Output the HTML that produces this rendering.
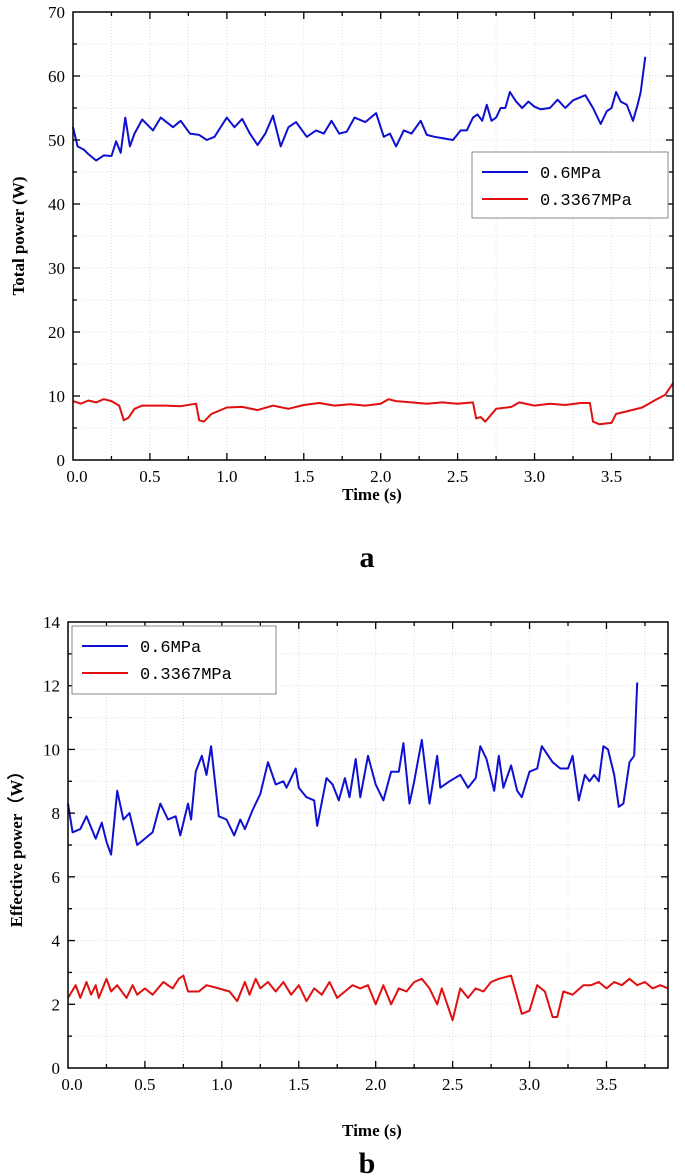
<!DOCTYPE html>
<html><head><meta charset="utf-8"><style>
html,body{margin:0;padding:0;background:#fff;}
svg{display:block;font-family:"Liberation Serif",serif;}
</style></head><body>
<svg id="svg" width="685" height="1176" viewBox="0 0 685 1176" xmlns="http://www.w3.org/2000/svg"></svg>
<script>
// Chart a data
const aBlueT=[0,0.03,0.07,0.1,0.15,0.2,0.25,0.28,0.31,0.34,0.37,0.4,0.45,0.52,0.57,0.65,0.7,0.76,0.82,0.87,0.92,1.0,1.05,1.1,1.15,1.2,1.25,1.3,1.35,1.4,1.45,1.52,1.58,1.63,1.68,1.73,1.78,1.83,1.9,1.97,2.02,2.06,2.1,2.15,2.2,2.26,2.3,2.35,2.4,2.47,2.52,2.56,2.6,2.63,2.66,2.69,2.72,2.75,2.78,2.81,2.84,2.88,2.92,2.96,3.0,3.04,3.1,3.15,3.2,3.25,3.28,3.33,3.38,3.43,3.47,3.5,3.53,3.56,3.6,3.64,3.67,3.69,3.72];
const aBlueV=[52,49,48.5,47.8,46.8,47.6,47.5,49.8,48,53.5,49,51,53.2,51.5,53.5,52,53,51,50.8,50,50.5,53.5,52,53.3,51,49.2,51,53.8,49,52,52.8,50.5,51.5,51,53,51,51.3,53.5,52.8,54.2,50.5,51,49,51.5,51,53,50.8,50.5,50.3,50,51.5,51.5,53.5,54,53,55.5,53,53.5,55,55,57.5,56,55,56,55.2,54.8,55,56.3,55,56.2,56.5,57,55,52.5,54.5,55,57.5,56,55.5,53,55.5,57.5,63];
const aRedT=[0,0.05,0.1,0.15,0.2,0.25,0.3,0.33,0.36,0.4,0.45,0.6,0.7,0.8,0.82,0.85,0.9,1.0,1.1,1.2,1.3,1.4,1.5,1.6,1.7,1.8,1.9,2.0,2.05,2.1,2.2,2.3,2.4,2.5,2.6,2.62,2.65,2.68,2.75,2.85,2.9,3.0,3.1,3.2,3.3,3.36,3.38,3.42,3.5,3.53,3.6,3.7,3.78,3.85,3.9];
const aRedV=[9.2,8.8,9.3,9.0,9.5,9.2,8.5,6.2,6.6,8.0,8.5,8.5,8.4,8.8,6.2,6.0,7.2,8.2,8.3,7.8,8.5,8.0,8.6,8.9,8.5,8.7,8.5,8.8,9.5,9.2,9.0,8.8,9.0,8.8,9.0,6.5,6.7,6.0,8.0,8.3,9.0,8.5,8.8,8.6,8.9,8.9,6.0,5.6,5.8,7.2,7.6,8.2,9.3,10.2,12];
// Chart b data
const bBlueT=[0,0.03,0.08,0.12,0.18,0.22,0.25,0.28,0.32,0.36,0.4,0.45,0.5,0.55,0.6,0.65,0.7,0.73,0.78,0.8,0.83,0.87,0.9,0.93,0.98,1.03,1.08,1.12,1.15,1.2,1.25,1.3,1.35,1.4,1.42,1.48,1.5,1.55,1.6,1.62,1.68,1.72,1.76,1.8,1.83,1.87,1.9,1.95,2.0,2.05,2.1,2.15,2.18,2.22,2.25,2.3,2.35,2.4,2.42,2.48,2.55,2.6,2.65,2.68,2.72,2.77,2.8,2.83,2.88,2.92,2.95,3.0,3.05,3.08,3.15,3.2,3.25,3.28,3.32,3.36,3.39,3.42,3.45,3.48,3.51,3.55,3.58,3.61,3.65,3.68];
const bBlueV=[8.3,7.4,7.5,7.9,7.2,7.7,7.1,6.7,8.7,7.8,8.0,7.0,7.2,7.4,8.3,7.8,7.9,7.3,8.3,7.8,9.3,9.8,9.2,10.1,7.9,7.8,7.3,7.8,7.5,8.1,8.6,9.6,8.9,9.0,8.8,9.4,8.8,8.5,8.4,7.6,9.1,8.9,8.4,9.1,8.5,9.7,8.5,9.8,8.9,8.4,9.3,9.3,10.2,8.3,9.0,10.3,8.3,9.8,8.8,9.0,9.2,8.8,9.1,10.1,9.7,8.7,9.8,8.8,9.5,8.7,8.5,9.3,9.4,10.1,9.6,9.4,9.4,9.8,8.4,9.2,9.0,9.2,9.0,10.1,10.0,9.2,8.2,8.3,9.6,9.8];
const bBlueEndT=[3.68,3.7];
const bBlueEndV=[9.8,12.1];
const bRedT=[0,0.05,0.08,0.12,0.15,0.18,0.2,0.25,0.28,0.32,0.38,0.42,0.45,0.5,0.55,0.62,0.68,0.72,0.75,0.78,0.85,0.9,0.98,1.05,1.1,1.15,1.18,1.22,1.25,1.3,1.35,1.4,1.45,1.5,1.55,1.6,1.65,1.7,1.75,1.8,1.85,1.9,1.95,2.0,2.05,2.1,2.15,2.2,2.25,2.3,2.35,2.4,2.43,2.5,2.55,2.6,2.65,2.7,2.75,2.8,2.88,2.95,3.0,3.05,3.1,3.15,3.18,3.22,3.28,3.35,3.4,3.45,3.5,3.55,3.6,3.65,3.7,3.75,3.8,3.85,3.9];
const bRedV=[2.2,2.6,2.2,2.7,2.3,2.6,2.2,2.8,2.4,2.6,2.2,2.6,2.3,2.5,2.3,2.7,2.5,2.8,2.9,2.4,2.4,2.6,2.5,2.4,2.1,2.7,2.3,2.8,2.5,2.7,2.4,2.7,2.3,2.6,2.1,2.5,2.3,2.7,2.2,2.4,2.6,2.5,2.6,2.0,2.6,2.0,2.5,2.4,2.7,2.8,2.5,2.0,2.5,1.5,2.5,2.2,2.5,2.4,2.7,2.8,2.9,1.7,1.8,2.6,2.4,1.6,1.6,2.4,2.3,2.6,2.6,2.7,2.5,2.7,2.6,2.8,2.6,2.7,2.5,2.6,2.5];
const xTicks=[0,0.5,1,1.5,2,2.5,3,3.5];
const xTickLabels=["0.0","0.5","1.0","1.5","2.0","2.5","3.0","3.5"];
const aYTicks=[0,10,20,30,40,50,60,70];
const bYTicks=[0,2,4,6,8,10,12,14];
const legendLabels=["0.6MPa","0.3367MPa"];

const NS="http://www.w3.org/2000/svg";
const svg=document.getElementById('svg');
function mk(tag,attrs,parent){const e=document.createElementNS(NS,tag);for(const k in attrs)e.setAttribute(k,attrs[k]);(parent||svg).appendChild(e);return e;}

function chart(cfg){
  const g=mk('g',{});
  
  
  const L=cfg.left,R=cfg.right,T=cfg.top,B=cfg.bottom;
  const sx=t=>L+(t-0)/(3.9)*(R-L);
  const sy=v=>B-(v-0)/(cfg.ymax)*(B-T);
  for(let t=0.25;t<3.9;t+=0.25){const l=mk('line',{x1:sx(t),x2:sx(t),y1:T,y2:B,stroke:'#ddd','stroke-width':1,'stroke-dasharray':'1,2'},g);}
  for(let v=cfg.ystep/2;v<cfg.ymax;v+=cfg.ystep/2){const l=mk('line',{x1:L,x2:R,y1:sy(v),y2:sy(v),stroke:'#ddd','stroke-width':1,'stroke-dasharray':'1,2'},g);}
  function series(ts,vs,color,name){
    const d=ts.map((t,i)=>(i?'L':'M')+sx(t).toFixed(1)+','+sy(vs[i]).toFixed(1)).join(' ');
    const p=mk('path',{d:d,fill:'none',stroke:color,'stroke-width':2,'stroke-linejoin':'round'},g);
    
    
    return p;
  }
  cfg.series.forEach(s=>series(s[0],s[1],s[2],s[3]));
  const fr=mk('rect',{x:L,y:T,width:R-L,height:B-T,fill:'none',stroke:'#000','stroke-width':1.5},g);
  
  
  for(let t=0.25;t<3.9;t+=0.25){
    const major=Math.abs(t*2-Math.round(t*2))<1e-6;const len=major?7:4;
    mk('line',{x1:sx(t),x2:sx(t),y1:B,y2:B-len,stroke:'#000','stroke-width':1.3},g);
    mk('line',{x1:sx(t),x2:sx(t),y1:T,y2:T+len,stroke:'#000','stroke-width':1.3},g);
  }
  xTicks.forEach((t,i)=>{const tx=mk('text',{x:sx(t)+(i==0?4:0),y:B+22,'text-anchor':'middle','font-size':17,fill:'#000'},g);tx.textContent=xTickLabels[i];});
  for(let v=cfg.ystep/2;v<cfg.ymax;v+=cfg.ystep/2){
    const major=Math.abs(v/cfg.ystep-Math.round(v/cfg.ystep))<1e-6;const len=major?7:4;
    mk('line',{x1:L,x2:L+len,y1:sy(v),y2:sy(v),stroke:'#000','stroke-width':1.3},g);
    mk('line',{x1:R,x2:R-len,y1:sy(v),y2:sy(v),stroke:'#000','stroke-width':1.3},g);
  }
  cfg.yTicks.forEach(v=>{const tx=mk('text',{x:L-8,y:sy(v)+6,'text-anchor':'end','font-size':17,fill:'#000'},g);tx.textContent=String(v);});
  const yt=mk('text',{x:0,y:0,transform:`translate(${cfg.ytX},${(T+B)/2}) rotate(-90)`,'text-anchor':'middle','font-size':17,'font-weight':'bold',fill:'#000'},g);
  yt.textContent=cfg.ytitle;
  const xt=mk('text',{x:372,y:B+cfg.xtOff,'text-anchor':'middle','font-size':17,'font-weight':'bold',fill:'#000'},g);
  xt.textContent='Time (s)';
  const pl=mk('text',{x:367,y:B+cfg.plOff,'text-anchor':'middle','font-size':30,'font-weight':'bold',fill:'#000'},g);
  pl.textContent=cfg.panel;
  const lg=mk('g',{},g);
  const lb=cfg.legend;
  mk('rect',{x:lb[0],y:lb[1],width:lb[2],height:lb[3],fill:'#fff',stroke:'#888','stroke-width':1},lg);
  [['#1010d0',0],['#e01010',1]].forEach(([c,i])=>{
    const yy=lb[1]+20+i*27;
    const e=mk('g',{},lg);
    mk('line',{x1:lb[0]+10,x2:lb[0]+56,y1:yy,y2:yy,stroke:c,'stroke-width':2},e);
    const tx=mk('text',{x:lb[0]+68,y:yy+6,'font-size':17,'font-family':'Liberation Mono, monospace',fill:'#000'},e);tx.textContent=legendLabels[i];
  });
}
chart({name:'chart-a-total-power',left:73,right:673,top:12,bottom:460,ymax:70,ystep:10,yTicks:aYTicks,ytitle:'Total power (W)',ytX:24,panel:'a',xtOff:40,plOff:107,legend:[472,152,196,66],
  series:[[aBlueT,aBlueV,'#1010d0','series-0.6mpa'],[aRedT,aRedV,'#e01010','series-0.3367mpa']]});
chart({name:'chart-b-effective-power',left:68,right:668,top:622,bottom:1068,ymax:14,ystep:2,yTicks:bYTicks,ytitle:'Effective power（W）',ytX:22,panel:'b',xtOff:68,plOff:105,legend:[72,626,204,68],
  series:[[bBlueT,bBlueV,'#1010d0','series-0.6mpa'],[bBlueEndT,bBlueEndV,'#1010d0','series-0.6mpa-end'],[bRedT,bRedV,'#e01010','series-0.3367mpa']]});
</script>
</body></html>
